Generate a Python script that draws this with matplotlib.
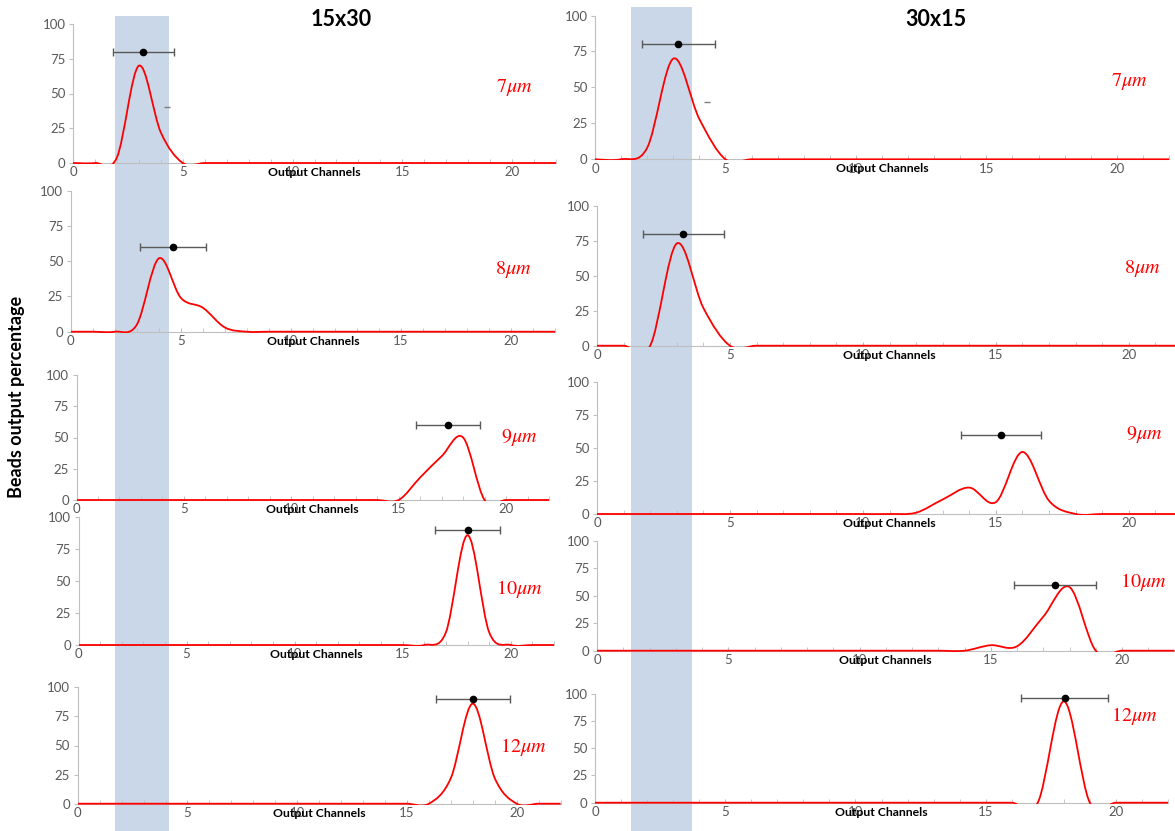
import numpy as np
import matplotlib
matplotlib.use('Agg')
import matplotlib.pyplot as plt
from matplotlib.path import Path
from matplotlib.patches import PathPatch, Rectangle
from matplotlib.transforms import Bbox, TransformedBbox, blended_transform_factory

plt.rcParams['font.family'] = ['Lato', 'DejaVu Sans']
plt.rcParams['mathtext.fontset'] = 'stix'

# output channel index (x axis)
channels = np.arange(23)

# beads output percentage per channel, 15x30 device
left_7um  = [0, 0, 4, 70, 22, 0, 0, 0, 0, 0, 0, 0, 0, 0, 0, 0, 0, 0, 0, 0, 0, 0, 0]
left_8um  = [0, 0, 0, 5, 52, 24, 17, 3, 0, 0, 0, 0, 0, 0, 0, 0, 0, 0, 0, 0, 0, 0, 0]
left_9um  = [0, 0, 0, 0, 0, 0, 0, 0, 0, 0, 0, 0, 0, 0, 0, 0, 18, 35, 50, 0, 0, 0, 0]
left_10um = [0, 0, 0, 0, 0, 0, 0, 0, 0, 0, 0, 0, 0, 0, 0, 0, 0, 10, 86, 10, 0, 0, 0]
left_12um = [0, 0, 0, 0, 0, 0, 0, 0, 0, 0, 0, 0, 0, 0, 0, 0, 0, 22, 86, 22, 0, 0, 0]

# beads output percentage per channel, 30x15 device
right_7um  = [0, 0, 8, 70, 28, 0, 0, 0, 0, 0, 0, 0, 0, 0, 0, 0, 0, 0, 0, 0, 0, 0, 0]
right_8um  = [0, 0, 0, 73, 27, 0, 0, 0, 0, 0, 0, 0, 0, 0, 0, 0, 0, 0, 0, 0, 0, 0, 0]
right_9um  = [0, 0, 0, 0, 0, 0, 0, 0, 0, 0, 0, 0, 1, 11, 20, 9, 47, 10, 0, 0, 0, 0, 0]
right_10um = [0, 0, 0, 0, 0, 0, 0, 0, 0, 0, 0, 0, 0, 0, 0, 5, 4, 31, 58, 0, 0, 0, 0]
right_12um = [0, 0, 0, 0, 0, 0, 0, 0, 0, 0, 0, 0, 0, 0, 0, 0, 0, 0, 93, 0, 0, 0, 0]

# mean channel, marker height, spread (horizontal error)
left_mean  = [3.2, 4.65, 17.3, 18.0, 18.0]
left_mark  = [80, 60, 60, 90, 90]
left_err   = [1.4, 1.5, 1.5, 1.5, 1.68]
right_mean = [3.2, 3.25, 15.2, 17.45, 18.03]
right_mark = [80, 80, 60, 60, 96]
right_err  = [1.4, 1.53, 1.5, 1.55, 1.67]

sizes = [r'$7\mu m$', r'$8\mu m$', r'$9\mu m$', r'$10\mu m$', r'$12\mu m$']
left_lab_pos  = [(20.1, 54), (20.1, 44), (20.6, 50), (20.4, 44), (20.3, 49)]
right_lab_pos = [(20.5, 54), (20.5, 55), (20.6, 60), (20.8, 63), (20.7, 80)]

# shaded channel range (in channel units)
left_band = (1.9, 4.35)
right_band = (1.37, 3.7)

W, H = 1175, 831
# axes boxes in pixels: x at 0, x at 22, y at 100, y at 0
left_px = [(73, 556, 24, 163), (70.8, 555, 190.7, 331.7), (76.5, 549, 375, 500),
           (78.5, 554, 517.3, 645), (77.7, 560.6, 687.3, 803.7)]
right_px = [(595, 1169, 15.5, 159.3), (597, 1182, 205.7, 345.7), (597, 1182, 382, 514),
            (597, 1174.5, 541, 650.7), (595, 1168, 693.7, 802.7)]


def smooth_path(x, y):
    # Excel-like smoothed line: cubic bezier segments through the points
    pts = np.column_stack([x, y]).astype(float)
    n = len(pts)
    verts = [pts[0]]
    codes = [Path.MOVETO]
    for i in range(n - 1):
        p0 = pts[max(i - 1, 0)]
        p1 = pts[i]
        p2 = pts[i + 1]
        p3 = pts[min(i + 2, n - 1)]
        verts += [p1 + (p2 - p0) / 6, p2 - (p3 - p1) / 6, p2]
        codes += [Path.CURVE4] * 3
    return Path(verts, codes)


def make_panel(fig, box, vals, mean, mark, err, label, lpos, first):
    x0, x22, ytop, ybot = box
    ax = fig.add_axes([x0 / W, 1 - ybot / H, (x22 - x0) / W, (ybot - ytop) / H])
    ax.set_facecolor('none')
    ax.set_xlim(0, 22)
    ax.set_ylim(0, 100)
    for s in ['top', 'right']:
        ax.spines[s].set_visible(False)
    ax.spines['left'].set_color('#bfbfbf')
    ax.spines['bottom'].set_color('#bfbfbf')
    ax.set_yticks([0, 25, 50, 75, 100])
    ax.set_xticks([0, 5, 10, 15, 20])
    ax.set_xticks(np.arange(0, 23), minor=True)
    ax.tick_params(axis='y', direction='out', length=3, color='#bfbfbf',
                   labelsize=9.5, labelcolor='#595959', pad=2.5)
    ax.tick_params(axis='x', which='both', direction='in', length=3, color='#bfbfbf',
                   labelsize=9.5, labelcolor='#595959', pad=2.5)

    clip = TransformedBbox(Bbox.from_extents(0, -0.8, 22, 101), ax.transData)
    patch = PathPatch(smooth_path(channels, vals), fill=False, edgecolor='#ff0000',
                      lw=1.3, zorder=3)
    ax.add_patch(patch)
    patch.set_clip_box(clip)

    ax.errorbar(mean, mark, xerr=err, fmt='o', color='black', ms=4.5,
                ecolor='#595959', elinewidth=1, capsize=3, capthick=1, zorder=4)
    if first:
        ax.plot(4.3, 40, marker='_', color='#7f7f7f', ms=5)

    ax.text(lpos[0], lpos[1], label, color='#ff0000', fontsize=14.5,
            ha='center', va='center')
    ax.annotate('Output Channels', xy=(0.5, 0), xycoords='axes fraction',
                xytext=(0, -3), textcoords='offset points', ha='center', va='top',
                fontsize=8.8, fontweight='bold', color='black')
    return ax


fig = plt.figure(figsize=(W / 100, H / 100), dpi=100)
fig.patch.set_facecolor('white')

left_vals = [left_7um, left_8um, left_9um, left_10um, left_12um]
right_vals = [right_7um, right_8um, right_9um, right_10um, right_12um]

left_axes = []
right_axes = []
for i in range(5):
    left_axes.append(make_panel(fig, left_px[i], left_vals[i], left_mean[i], left_mark[i],
                                left_err[i], sizes[i], left_lab_pos[i], i == 0))
    right_axes.append(make_panel(fig, right_px[i], right_vals[i], right_mean[i], right_mark[i],
                                 right_err[i], sizes[i], right_lab_pos[i], i == 0))

# shaded band behind all panels of each column
for ax, band, top in [(left_axes[0], left_band, 15.7), (right_axes[0], right_band, 6.7)]:
    tr = blended_transform_factory(ax.transData, fig.transFigure)
    rect = Rectangle((band[0], 0), band[1] - band[0], 1 - top / H, transform=tr,
                     facecolor='#c9d7e8', edgecolor='none', zorder=-1)
    fig.add_artist(rect)

fig.text(341 / W, 1 - 20 / H, '15x30', fontsize=15.5, fontweight='bold', ha='center', va='center')
fig.text(936 / W, 1 - 19 / H, '30x15', fontsize=15.5, fontweight='bold', ha='center', va='center')
fig.text(17 / W, 1 - 397 / H, 'Beads output percentage', fontsize=13, fontweight='bold',
         rotation=90, ha='center', va='center')

fig.savefig('out.png', dpi=100)
